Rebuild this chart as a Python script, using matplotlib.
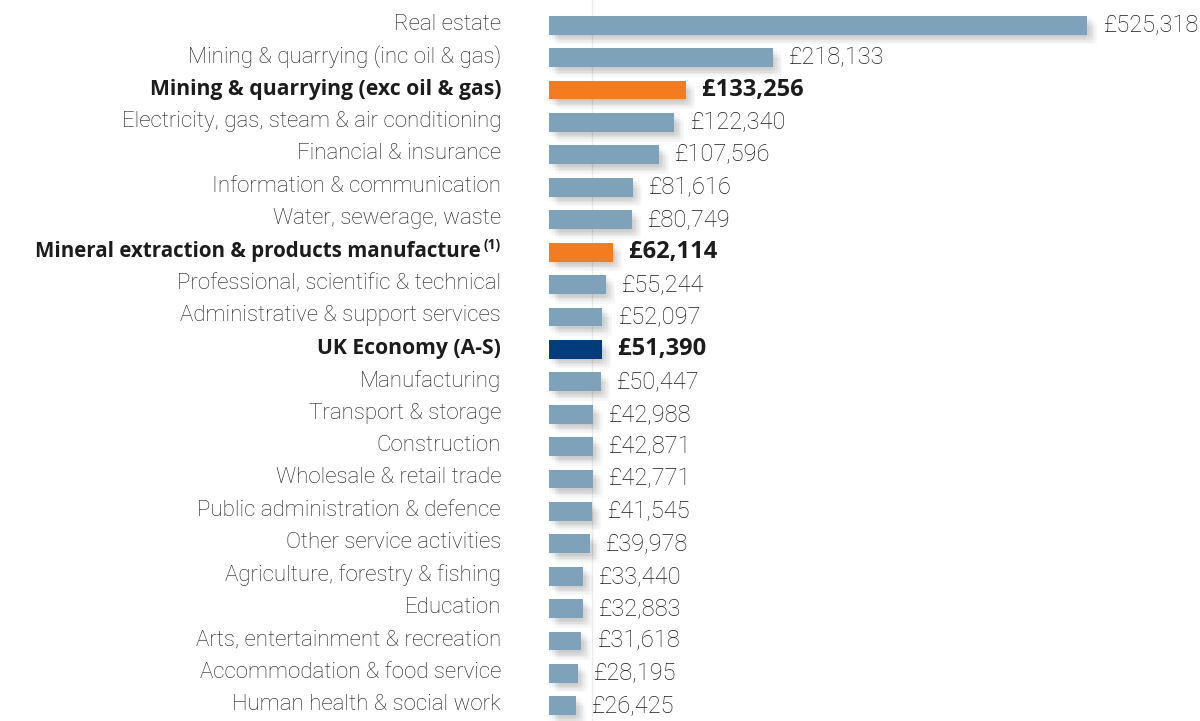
import matplotlib
matplotlib.use('Agg')
from matplotlib import pyplot as plt
import matplotlib.patheffects as pe

sectors = [
    'Real estate',
    'Mining & quarrying (inc oil & gas)',
    'Mining & quarrying (exc oil & gas)',
    'Electricity, gas, steam & air conditioning',
    'Financial & insurance',
    'Information & communication',
    'Water, sewerage, waste',
    'Mineral extraction & products manufacture',
    'Professional, scientific & technical',
    'Administrative & support services',
    'UK Economy (A-S)',
    'Manufacturing',
    'Transport & storage',
    'Construction',
    'Wholesale & retail trade',
    'Public administration & defence',
    'Other service activities',
    'Agriculture, forestry & fishing',
    'Education',
    'Arts, entertainment & recreation',
    'Accommodation & food service',
    'Human health & social work',
]
gva_per_worker = [525318, 218133, 133256, 122340, 107596, 81616, 80749, 62114,
                  55244, 52097, 51390, 50447, 42988, 42871, 42771, 41545,
                  39978, 33440, 32883, 31618, 28195, 26425]
highlight = {'Mining & quarrying (exc oil & gas)': 'orange',
             'Mineral extraction & products manufacture': 'orange',
             'UK Economy (A-S)': 'navy'}
footnote_on = 'Mineral extraction & products manufacture'

COLORS = {'base': '#7ea2ba', 'orange': '#f47c20', 'navy': '#003d7a'}
TEXT = '#1c1c1c'
LIGHT_FONT = ['Roboto', 'DejaVu Sans']
BOLD_FONT = ['Open Sans', 'DejaVu Sans']

fig = plt.figure(figsize=(12, 7.21), dpi=100)
left_px = 549
ax = fig.add_axes([left_px / 1200, 0, 1 - left_px / 1200, 1])
ax.set_xlim(0, 651 / 0.001025)
ax.set_ylim(21.47, -0.78)
ax.axis('off')

# faint gridline behind bars
ax.axvline(42000, color='#ececec', lw=1, zorder=0)

# soft-ish drop shadow built from several faint offset copies
offsets = [(1, -1), (2, -2), (3, -3), (4, -4), (5, -5), (6, -6), (7, -7),
           (2, -5), (5, -2), (4, -7), (7, -4), (0, -4), (3, 0), (-1, -3)]
shadow = [pe.SimplePatchShadow(offset=o, shadow_rgbFace='black', alpha=0.014)
          for o in offsets]
shadow.append(pe.Normal())

for i, (name, val) in enumerate(zip(sectors, gva_per_worker)):
    kind = highlight.get(name, 'base')
    bold = kind != 'base'
    bar = ax.barh(i, val, height=0.58, color=COLORS[kind], zorder=2)
    for p in bar.patches:
        p.set_path_effects(shadow)

    fam = BOLD_FONT if bold else LIGHT_FONT
    wt = 'bold' if bold else 'light'
    size = 15.2 if bold else 16
    label_off = -48
    if name == footnote_on:
        ax.annotate('(1)', xy=(0, i), xytext=(-48, 7), textcoords='offset pixels',
                    ha='right', va='center', fontsize=10, fontweight='bold',
                    family=fam, color=TEXT)
        label_off = -68
        size = 14.8
    ax.annotate(name, xy=(0, i), xytext=(label_off, 1), textcoords='offset pixels',
                ha='right', va='center', fontsize=size,
                fontweight=wt, family=fam, color=TEXT)
    ax.annotate('£{:,}'.format(val), xy=(val, i), xytext=(16, 0),
                textcoords='offset pixels', ha='left', va='center',
                fontsize=17, fontweight=wt, family=fam, color=TEXT)

fig.savefig('out.png', dpi=100, facecolor='white')
